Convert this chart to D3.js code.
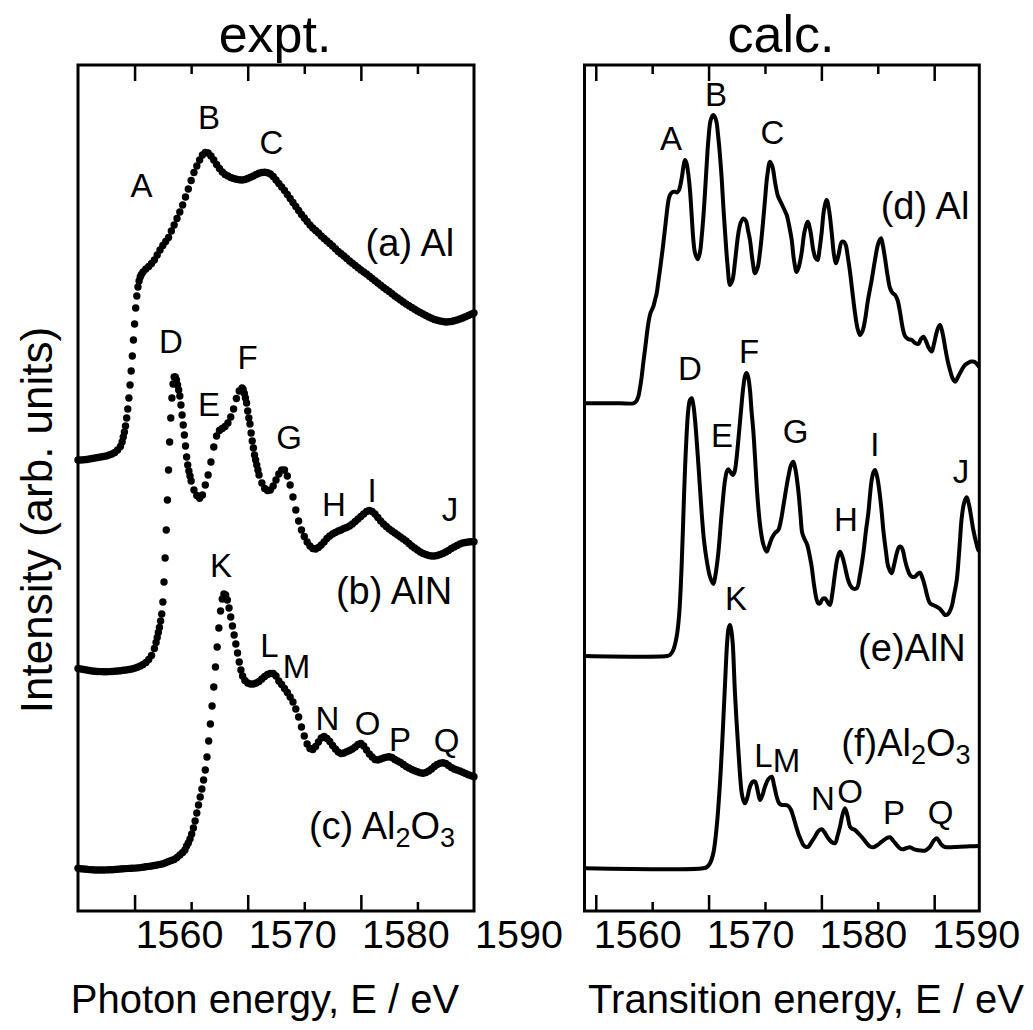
<!DOCTYPE html>
<html><head><meta charset="utf-8">
<script src="https://cdn.jsdelivr.net/npm/d3@7"></script>
<style>body{margin:0;background:#fff}svg{display:block}text{font-family:"Liberation Sans",Arial,Helvetica,sans-serif;fill:#000}</style>
</head><body><svg id="c" width="1033" height="1030"></svg>
<script>
// ---------- DATA (energy eV, intensity arb. units) ----------
const exptAl = [[1555.00,45.10],[1555.25,45.10],[1555.50,45.12],[1555.75,45.15],[1556.00,45.20],[1556.25,45.25],[1556.50,45.30],[1556.75,45.35],[1557.00,45.40],[1557.25,45.45],[1557.50,45.50],[1557.75,45.60],[1558.00,45.70],[1558.25,45.85],[1558.50,46.10],[1558.75,46.45],[1558.90,46.90],[1559.00,47.40],[1559.10,47.90],[1559.20,48.50],[1559.30,49.30],[1559.40,50.20],[1559.50,51.30],[1559.60,52.60],[1559.70,54.00],[1559.80,55.50],[1559.90,57.10],[1560.00,58.70],[1560.10,60.30],[1560.20,61.50],[1560.30,62.40],[1560.40,63.00],[1560.50,63.40],[1560.60,63.65],[1560.75,63.90],[1561.00,64.20],[1561.25,64.45],[1561.50,64.75],[1561.75,65.10],[1562.00,65.60],[1562.25,66.10],[1562.50,66.55],[1562.75,66.95],[1563.00,67.35],[1563.25,68.00],[1563.50,68.60],[1563.75,69.25],[1564.00,69.90],[1564.25,70.60],[1564.50,71.40],[1564.75,72.20],[1565.00,73.05],[1565.25,73.85],[1565.50,74.50],[1565.75,75.10],[1566.00,75.60],[1566.25,75.85],[1566.50,75.80],[1566.75,75.50],[1567.00,75.10],[1567.25,74.65],[1567.50,74.25],[1567.75,73.90],[1568.00,73.65],[1568.25,73.50],[1568.50,73.35],[1568.75,73.25],[1569.00,73.17],[1569.25,73.12],[1569.50,73.10],[1569.75,73.15],[1570.00,73.25],[1570.25,73.37],[1570.50,73.50],[1570.75,73.65],[1571.00,73.77],[1571.25,73.85],[1571.50,73.87],[1571.75,73.82],[1572.00,73.70],[1572.25,73.45],[1572.50,73.10],[1572.75,72.75],[1573.00,72.40],[1573.25,72.05],[1573.50,71.65],[1573.75,71.25],[1574.00,70.85],[1574.25,70.45],[1574.50,70.05],[1574.75,69.65],[1575.00,69.30],[1575.25,68.95],[1575.50,68.60],[1575.75,68.30],[1576.00,68.05],[1576.25,67.80],[1576.50,67.50],[1576.75,67.25],[1577.00,67.00],[1577.25,66.75],[1577.50,66.50],[1577.75,66.22],[1578.00,65.95],[1578.25,65.72],[1578.50,65.50],[1578.75,65.25],[1579.00,65.00],[1579.25,64.77],[1579.50,64.55],[1579.75,64.32],[1580.00,64.10],[1580.25,63.90],[1580.50,63.70],[1580.75,63.47],[1581.00,63.25],[1581.25,63.02],[1581.50,62.80],[1581.75,62.57],[1582.00,62.35],[1582.25,62.15],[1582.50,61.95],[1582.75,61.72],[1583.00,61.50],[1583.25,61.30],[1583.50,61.10],[1583.75,60.90],[1584.00,60.70],[1584.25,60.52],[1584.50,60.35],[1584.75,60.17],[1585.00,60.00],[1585.25,59.85],[1585.50,59.70],[1585.75,59.55],[1586.00,59.40],[1586.25,59.27],[1586.50,59.15],[1586.75,59.07],[1587.00,59.00],[1587.25,58.95],[1587.50,58.90],[1587.75,58.92],[1588.00,58.95],[1588.25,59.02],[1588.50,59.10],[1588.75,59.20],[1589.00,59.30],[1589.25,59.42],[1589.50,59.55],[1589.75,59.67],[1590.00,59.80]];

const exptAlN = [[1555.00,24.25],[1555.25,24.20],[1555.50,24.15],[1555.75,24.10],[1556.00,24.05],[1556.25,24.00],[1556.50,23.97],[1556.75,23.95],[1557.00,23.94],[1557.25,23.93],[1557.50,23.93],[1557.75,23.94],[1558.00,23.95],[1558.25,23.98],[1558.50,24.00],[1558.75,24.03],[1559.00,24.07],[1559.25,24.10],[1559.50,24.15],[1559.75,24.20],[1560.00,24.27],[1560.25,24.37],[1560.50,24.50],[1560.75,24.65],[1561.00,24.85],[1561.25,25.15],[1561.50,25.55],[1561.75,26.25],[1561.90,26.85],[1562.00,27.35],[1562.10,27.85],[1562.20,28.35],[1562.30,29.00],[1562.40,29.70],[1562.50,30.90],[1562.60,32.90],[1562.70,35.30],[1562.80,38.10],[1562.90,41.10],[1563.00,44.10],[1563.10,46.90],[1563.20,49.30],[1563.30,51.30],[1563.40,52.70],[1563.50,53.40],[1563.60,53.40],[1563.70,53.10],[1563.80,52.60],[1563.90,52.10],[1564.00,51.50],[1564.10,50.60],[1564.20,49.60],[1564.30,48.60],[1564.40,47.60],[1564.50,46.50],[1564.60,45.40],[1564.70,44.60],[1564.80,44.00],[1564.90,43.50],[1565.00,43.00],[1565.25,42.10],[1565.50,41.55],[1565.75,41.27],[1566.00,41.60],[1566.25,42.60],[1566.50,43.60],[1566.75,44.90],[1567.00,46.40],[1567.25,47.50],[1567.50,48.05],[1567.75,48.25],[1568.00,48.45],[1568.25,48.80],[1568.50,49.40],[1568.75,50.20],[1569.00,51.25],[1569.25,52.00],[1569.50,52.30],[1569.60,52.15],[1569.70,51.75],[1569.80,51.30],[1569.90,50.80],[1570.00,50.00],[1570.10,49.30],[1570.20,48.70],[1570.30,47.80],[1570.40,47.00],[1570.50,46.30],[1570.60,45.60],[1570.70,45.10],[1570.80,44.60],[1570.90,44.10],[1571.00,43.60],[1571.25,42.80],[1571.50,42.25],[1571.75,42.05],[1572.00,42.10],[1572.25,42.50],[1572.50,43.10],[1572.75,43.70],[1573.00,44.10],[1573.25,44.10],[1573.50,43.50],[1573.75,42.60],[1574.00,41.40],[1574.25,40.10],[1574.50,39.00],[1574.75,38.10],[1575.00,37.45],[1575.25,36.90],[1575.50,36.50],[1575.75,36.25],[1576.00,36.20],[1576.25,36.35],[1576.50,36.60],[1576.75,36.90],[1577.00,37.25],[1577.25,37.50],[1577.50,37.70],[1577.75,37.85],[1578.00,38.00],[1578.25,38.10],[1578.50,38.25],[1578.75,38.35],[1579.00,38.50],[1579.25,38.70],[1579.50,38.95],[1579.75,39.20],[1580.00,39.45],[1580.25,39.70],[1580.50,39.95],[1580.75,40.05],[1581.00,39.95],[1581.25,39.70],[1581.50,39.35],[1581.75,39.00],[1582.00,38.70],[1582.25,38.45],[1582.50,38.20],[1582.75,38.00],[1583.00,37.80],[1583.25,37.60],[1583.50,37.40],[1583.75,37.20],[1584.00,37.00],[1584.25,36.75],[1584.50,36.50],[1584.75,36.30],[1585.00,36.10],[1585.25,35.90],[1585.50,35.75],[1585.75,35.65],[1586.00,35.55],[1586.25,35.50],[1586.50,35.50],[1586.75,35.55],[1587.00,35.65],[1587.25,35.75],[1587.50,35.90],[1587.75,36.05],[1588.00,36.25],[1588.25,36.40],[1588.50,36.55],[1588.75,36.70],[1589.00,36.80],[1589.25,36.85],[1589.50,36.90],[1589.75,36.92],[1590.00,36.93]];

const exptAl2O3 = [[1555.00,4.27],[1555.25,4.23],[1555.50,4.20],[1555.75,4.17],[1556.00,4.14],[1556.25,4.12],[1556.50,4.10],[1556.75,4.10],[1557.00,4.10],[1557.25,4.10],[1557.50,4.11],[1557.75,4.12],[1558.00,4.13],[1558.25,4.15],[1558.50,4.17],[1558.75,4.20],[1559.00,4.22],[1559.25,4.24],[1559.50,4.26],[1559.75,4.27],[1560.00,4.29],[1560.25,4.31],[1560.50,4.34],[1560.75,4.38],[1561.00,4.42],[1561.25,4.46],[1561.50,4.50],[1561.75,4.55],[1562.00,4.60],[1562.25,4.66],[1562.50,4.73],[1562.75,4.82],[1563.00,4.95],[1563.25,5.05],[1563.50,5.15],[1563.75,5.35],[1564.00,5.60],[1564.25,5.85],[1564.45,6.10],[1564.60,6.50],[1564.75,6.80],[1564.90,7.20],[1565.05,7.70],[1565.20,8.30],[1565.35,9.00],[1565.50,9.80],[1565.65,10.60],[1565.80,11.40],[1565.95,12.20],[1566.10,13.10],[1566.25,14.10],[1566.40,15.40],[1566.55,17.00],[1566.70,18.70],[1566.85,20.50],[1567.00,22.40],[1567.15,24.40],[1567.30,26.40],[1567.45,28.30],[1567.60,30.00],[1567.75,31.20],[1567.90,31.70],[1568.05,31.60],[1568.20,31.10],[1568.35,30.30],[1568.50,29.40],[1568.65,28.50],[1568.80,27.60],[1568.95,26.70],[1569.10,25.80],[1569.25,24.90],[1569.40,24.10],[1569.55,23.50],[1569.75,23.05],[1570.00,22.80],[1570.25,22.70],[1570.50,22.70],[1570.75,22.80],[1571.00,22.95],[1571.25,23.20],[1571.50,23.45],[1571.75,23.65],[1572.00,23.75],[1572.25,23.75],[1572.50,23.50],[1572.75,23.00],[1573.00,22.65],[1573.25,22.25],[1573.50,21.85],[1573.75,21.40],[1574.00,20.90],[1574.25,20.20],[1574.50,19.40],[1574.75,18.40],[1575.00,17.50],[1575.25,16.70],[1575.50,16.25],[1575.75,16.15],[1576.00,16.45],[1576.25,16.90],[1576.50,17.30],[1576.75,17.45],[1577.00,17.25],[1577.25,16.95],[1577.50,16.55],[1577.75,16.20],[1578.00,15.90],[1578.25,15.75],[1578.50,15.80],[1578.75,15.93],[1579.00,16.05],[1579.25,16.20],[1579.50,16.40],[1579.75,16.65],[1580.00,16.75],[1580.25,16.50],[1580.50,16.10],[1580.75,15.70],[1581.00,15.40],[1581.25,15.15],[1581.50,15.10],[1581.75,15.20],[1582.00,15.30],[1582.25,15.37],[1582.50,15.42],[1582.75,15.35],[1583.00,15.15],[1583.25,15.00],[1583.50,14.85],[1583.75,14.65],[1584.00,14.45],[1584.25,14.30],[1584.50,14.15],[1584.75,14.02],[1585.00,13.92],[1585.25,13.83],[1585.50,13.77],[1585.75,13.85],[1586.00,14.00],[1586.25,14.20],[1586.50,14.45],[1586.75,14.65],[1587.00,14.77],[1587.25,14.83],[1587.50,14.75],[1587.75,14.55],[1588.00,14.35],[1588.25,14.20],[1588.50,14.10],[1588.75,14.00],[1589.00,13.87],[1589.25,13.75],[1589.50,13.62],[1589.75,13.52],[1590.00,13.43]];

const calcAl = [[1559.00,50.77],[1560.37,50.77],[1562.15,50.77],[1563.33,50.77],[1563.57,50.95],[1563.77,51.43],[1563.92,52.30],[1564.07,53.43],[1564.21,54.80],[1564.36,56.10],[1564.66,58.77],[1564.85,59.80],[1565.10,60.43],[1565.25,61.10],[1565.40,61.77],[1565.54,62.90],[1565.69,64.10],[1565.99,66.77],[1566.29,69.77],[1566.45,71.10],[1566.58,71.60],[1566.80,71.90],[1567.02,71.93],[1567.20,71.85],[1567.38,72.10],[1567.62,73.30],[1567.78,74.50],[1567.91,75.10],[1568.04,74.80],[1568.18,73.90],[1568.35,72.10],[1568.50,69.60],[1568.65,67.10],[1568.80,65.80],[1569.04,65.17],[1569.24,65.90],[1569.39,67.43],[1569.55,69.60],[1569.68,71.80],[1569.83,74.60],[1569.98,77.10],[1570.19,79.10],[1570.42,79.60],[1570.66,79.10],[1570.84,77.60],[1570.97,76.10],[1571.16,73.30],[1571.30,70.60],[1571.46,67.90],[1571.68,64.60],[1571.90,62.60],[1572.12,63.10],[1572.34,64.90],[1572.64,67.77],[1572.87,68.90],[1573.10,69.25],[1573.32,69.00],[1573.49,68.10],[1573.67,67.10],[1573.89,65.10],[1574.12,63.77],[1574.34,64.30],[1574.56,65.90],[1574.78,68.30],[1575.00,71.10],[1575.21,73.60],[1575.45,74.93],[1575.67,74.40],[1575.89,72.90],[1576.15,71.50],[1576.48,70.70],[1576.73,70.10],[1576.93,69.60],[1577.13,68.60],[1577.37,67.10],[1577.57,65.10],[1577.81,63.90],[1578.02,64.50],[1578.26,65.90],[1578.50,67.90],[1578.79,68.93],[1579.04,67.90],[1579.28,66.10],[1579.48,65.30],[1579.67,65.10],[1579.83,66.10],[1580.03,67.90],[1580.23,70.10],[1580.47,71.10],[1580.68,70.10],[1580.91,67.90],[1581.12,65.60],[1581.30,64.77],[1581.52,65.60],[1581.80,66.90],[1582.01,66.90],[1582.16,66.60],[1582.36,65.30],[1582.54,63.90],[1582.76,61.80],[1582.98,59.80],[1583.20,58.30],[1583.42,57.60],[1583.65,58.00],[1583.87,59.10],[1584.13,61.10],[1584.46,63.10],[1584.75,65.10],[1585.05,66.77],[1585.29,67.27],[1585.46,66.50],[1585.64,65.30],[1585.86,63.60],[1586.08,62.30],[1586.31,61.80],[1586.53,61.60],[1586.75,61.10],[1586.97,59.90],[1587.19,58.40],[1587.41,57.50],[1587.68,57.20],[1588.01,57.10],[1588.30,56.80],[1588.59,56.70],[1588.83,57.20],[1589.04,57.43],[1589.27,57.00],[1589.48,56.40],[1589.78,55.95],[1589.98,56.70],[1590.16,57.60],[1590.34,58.30],[1590.52,58.60],[1590.74,57.80],[1590.96,56.43],[1591.18,55.10],[1591.40,54.10],[1591.62,53.30],[1591.85,52.93],[1592.11,53.40],[1592.44,54.10],[1592.73,54.60],[1593.03,54.83],[1593.26,54.95],[1593.53,54.93],[1593.75,54.75],[1594.00,54.40]];

const calcAlN = [[1559.00,25.50],[1566.29,25.50],[1566.58,25.60],[1566.87,26.10],[1567.17,27.43],[1567.40,29.77],[1567.62,34.77],[1567.82,41.43],[1568.00,46.43],[1568.20,50.10],[1568.35,51.10],[1568.50,51.27],[1568.65,50.60],[1568.80,49.10],[1569.09,44.77],[1569.39,39.77],[1569.59,37.10],[1569.83,35.10],[1570.13,33.40],[1570.42,32.70],[1570.61,33.60],[1570.86,35.77],[1571.16,39.77],[1571.46,43.10],[1571.63,44.00],[1571.75,44.17],[1571.94,43.90],[1572.14,43.60],[1572.30,43.90],[1572.43,44.77],[1572.72,48.10],[1572.92,50.60],[1573.08,52.40],[1573.23,53.50],[1573.36,53.80],[1573.49,53.50],[1573.67,52.10],[1573.80,50.10],[1573.96,48.10],[1574.12,45.30],[1574.27,42.43],[1574.43,40.10],[1574.62,38.10],[1574.87,36.60],[1575.15,35.93],[1575.36,36.50],[1575.60,37.27],[1575.89,37.80],[1576.18,38.10],[1576.42,39.10],[1576.62,40.43],[1576.86,42.10],[1577.07,43.43],[1577.31,44.60],[1577.51,44.93],[1577.71,44.10],[1577.95,42.10],[1578.15,39.60],[1578.31,37.77],[1578.55,37.10],[1578.75,36.60],[1578.95,35.60],[1579.14,34.43],[1579.35,32.60],[1579.59,31.10],[1579.74,30.75],[1579.88,30.77],[1580.10,31.20],[1580.32,31.27],[1580.54,30.90],[1580.76,30.60],[1580.99,31.90],[1581.21,33.77],[1581.43,35.30],[1581.65,35.93],[1581.87,35.40],[1582.09,34.43],[1582.32,33.30],[1582.54,32.60],[1582.80,32.25],[1583.13,32.27],[1583.42,33.60],[1583.72,35.77],[1583.96,38.10],[1584.16,39.77],[1584.31,41.60],[1584.46,43.10],[1584.62,43.90],[1584.75,44.10],[1584.93,43.50],[1585.13,42.10],[1585.33,40.10],[1585.49,38.10],[1585.73,35.90],[1585.93,34.43],[1586.23,33.77],[1586.44,34.60],[1586.68,35.77],[1586.88,36.40],[1587.06,36.43],[1587.24,36.00],[1587.41,35.10],[1587.63,34.20],[1587.86,33.60],[1588.08,33.40],[1588.30,33.43],[1588.57,33.75],[1588.74,33.83],[1588.96,33.30],[1589.19,32.43],[1589.41,31.40],[1589.63,30.77],[1589.90,30.60],[1590.22,30.43],[1590.52,30.20],[1590.74,29.90],[1590.96,29.60],[1591.23,29.70],[1591.55,30.43],[1591.76,31.60],[1592.00,33.10],[1592.16,35.10],[1592.29,37.10],[1592.42,39.10],[1592.58,40.43],[1592.73,41.10],[1592.88,41.37],[1593.03,40.90],[1593.18,40.10],[1593.35,38.90],[1593.47,38.10],[1593.71,36.90],[1593.91,36.10],[1594.00,36.00]];

const calcAl2O3 = [[1559.00,4.27],[1569.53,4.27],[1569.86,4.40],[1570.13,4.77],[1570.42,5.77],[1570.72,8.43],[1571.01,12.77],[1571.25,17.77],[1571.46,22.77],[1571.66,27.10],[1571.78,28.30],[1571.90,28.60],[1572.01,28.10],[1572.14,26.77],[1572.34,21.77],[1572.64,16.10],[1572.94,11.77],[1573.10,11.00],[1573.23,10.77],[1573.45,11.40],[1573.67,12.43],[1573.89,12.90],[1574.12,12.93],[1574.34,12.10],[1574.56,11.10],[1574.78,11.60],[1575.00,12.43],[1575.31,13.20],[1575.60,13.43],[1575.80,12.60],[1576.04,11.43],[1576.24,10.80],[1576.48,10.60],[1576.78,10.60],[1577.07,10.50],[1577.31,10.10],[1577.51,9.43],[1577.75,8.50],[1577.95,7.77],[1578.19,7.10],[1578.40,6.60],[1578.64,6.40],[1578.84,6.43],[1579.12,6.90],[1579.43,7.43],[1579.74,8.00],[1580.03,8.17],[1580.32,7.80],[1580.61,7.27],[1580.90,6.90],[1581.21,6.77],[1581.43,7.50],[1581.65,8.43],[1581.87,9.60],[1582.09,10.27],[1582.32,9.50],[1582.54,8.43],[1582.76,8.20],[1582.98,8.10],[1583.42,7.60],[1583.73,7.20],[1584.02,6.77],[1584.31,6.45],[1584.60,6.37],[1584.98,6.60],[1585.35,6.93],[1585.73,7.25],[1586.08,7.37],[1586.39,7.00],[1586.68,6.60],[1586.97,6.25],[1587.26,6.17],[1587.55,6.30],[1587.86,6.37],[1588.17,6.20],[1588.45,6.10],[1588.83,6.05],[1589.19,6.03],[1589.41,6.20],[1589.63,6.43],[1589.94,7.00],[1590.22,7.27],[1590.43,7.00],[1590.67,6.60],[1590.96,6.40],[1591.25,6.37],[1591.76,6.40],[1592.29,6.43],[1593.18,6.47],[1594.00,6.50]];

// peak labels: [text, energy, intensity]
const peaksExpt = [["A",1560.61,72.60],["B",1566.58,79.35],["C",1572.10,76.90],["D",1563.22,57.00],["E",1566.58,50.70],["F",1569.98,55.35],["G",1573.65,47.35],["H",1577.63,40.70],["I",1580.99,42.10],["J",1587.88,40.20],["K",1567.64,34.60],["L",1571.93,26.60],["M",1574.31,24.45],["N",1577.05,19.25],["O",1580.59,18.75],["P",1583.46,17.15],["Q",1587.57,17.10]];
const peaksCalc = [["A",1566.67,77.25],["B",1570.66,81.70],["C",1575.67,77.85],["D",1568.35,54.25],["E",1571.19,47.60],["F",1573.58,55.95],["G",1577.71,48.00],["H",1582.18,39.15],["I",1584.75,46.65],["J",1592.38,44.00],["K",1572.43,31.25],["L",1574.87,15.60],["M",1576.91,15.10],["N",1580.14,11.25],["O",1582.54,12.00],["P",1586.44,9.85],["Q",1590.56,9.90]];
// series labels: parts [text, isSubscript], energy, intensity
const namesExpt = [[[["(a) Al",0]],1584.34,66.80],[[["(b) AlN",0]],1582.93,32.00],[[["(c) Al",0],["2",1],["O",0],["3",1]],1581.87,8.50]];
const namesCalc = [[[["(d) Al",0]],1589.19,70.50],[[["(e)AlN",0]],1588.03,26.30],[[["(f)Al",0],["2",1],["O",0],["3",1]],1587.50,16.80]];

const majorL = [1560,1570,1580], minorL = [1565,1575,1585];
const majorR = [1560,1570,1580,1590], minorR = [1565,1575,1585];
const tickLabels = [1560,1570,1580,1590];

// ---------- LAYOUT ----------
const svg = d3.select("#c");
const yTop = 65, yBot = 911;
const y = d3.scaleLinear().domain([0,84.6]).range([yBot, yTop]);
const xL = d3.scaleLinear().domain([1555,1590]).range([78,474]);
const xR = d3.scaleLinear().domain([1559,1594]).range([584.5,979.3]);

[exptAl, exptAlN, exptAl2O3].forEach(s => {
  svg.append("g").selectAll("circle").data(s).join("circle")
    .attr("cx", d => xL(d[0])).attr("cy", d => y(d[1])).attr("r", 3.7).attr("fill", "#000");
});
const line = d3.line().x(d => xR(d[0])).y(d => y(d[1])).curve(d3.curveCatmullRom.alpha(0.5));
[calcAl, calcAlN, calcAl2O3].forEach(s => {
  svg.append("path").datum(s).attr("d", line).attr("fill", "none")
    .attr("stroke", "#000").attr("stroke-width", 4).attr("stroke-linejoin", "round");
});

function axes(x, majors, minors, offset) {
  const mk = (gen, ty, vals, len) => {
    svg.append("g").attr("transform", `translate(0,${ty})`)
      .call(gen(x).tickValues(vals).tickSize(-len).tickFormat(""))
      .call(g => { g.select(".domain").remove(); g.selectAll("line").attr("stroke-width", 2.5); });
  };
  mk(d3.axisBottom, yBot, majors, 16);
  mk(d3.axisBottom, yBot, minors, 9);
  mk(d3.axisTop, yTop, majors, 16);
  mk(d3.axisTop, yTop, minors, 9);
  const xl = x.copy().range(x.range().map(v => v + offset));
  svg.append("g").attr("transform", `translate(0,${yBot})`)
    .call(d3.axisBottom(xl).tickValues(tickLabels).tickSize(0).tickPadding(9).tickFormat(d3.format("d")))
    .call(g => { g.select(".domain").remove(); g.attr("font-family", null).attr("font-size", 39.5); });
  const [x0, x1] = x.range();
  svg.append("rect").attr("x", x0).attr("y", yTop).attr("width", x1 - x0).attr("height", yBot - yTop)
    .attr("fill", "none").attr("stroke", "#000").attr("stroke-width", 3);
}
axes(xL, majorL, minorL, 44.5);
axes(xR, majorR, minorR, 41.5);

function peakLabels(x, arr) {
  svg.append("g").selectAll("text").data(arr).join("text")
    .attr("x", d => x(d[1])).attr("y", d => y(d[2])).attr("dy", "0.35em")
    .attr("text-anchor", "middle").attr("font-size", 33).text(d => d[0]);
}
peakLabels(xL, peaksExpt);
peakLabels(xR, peaksCalc);

function nameLabels(x, arr) {
  arr.forEach(([parts, e, v]) => {
    const t = svg.append("text").attr("x", x(e)).attr("y", y(v)).attr("dy", "0.35em")
      .attr("text-anchor", "middle").attr("font-size", 38);
    let shifted = false;
    parts.forEach(([s, sub]) => {
      const ts = t.append("tspan").text(s);
      if (sub && !shifted) { ts.attr("dy", 8).attr("font-size", 27); shifted = true; }
      else if (!sub && shifted) { ts.attr("dy", -8); shifted = false; }
      else if (sub) ts.attr("font-size", 27);
    });
  });
}
nameLabels(xL, namesExpt);
nameLabels(xR, namesCalc);

svg.append("text").attr("x", 275).attr("y", 52).attr("text-anchor", "middle").attr("font-size", 52).text("expt.");
svg.append("text").attr("x", 781).attr("y", 52).attr("text-anchor", "middle").attr("font-size", 52).text("calc.");
svg.append("text").attr("x", 265).attr("y", 1013).attr("text-anchor", "middle").attr("font-size", 40).text("Photon energy, E / eV");
svg.append("text").attr("x", 806).attr("y", 1013).attr("text-anchor", "middle").attr("font-size", 40).text("Transition energy, E / eV");
svg.append("text").attr("transform", "translate(52,520) rotate(-90)").attr("text-anchor", "middle").attr("font-size", 44).text("Intensity (arb. units)");
</script></body></html>
